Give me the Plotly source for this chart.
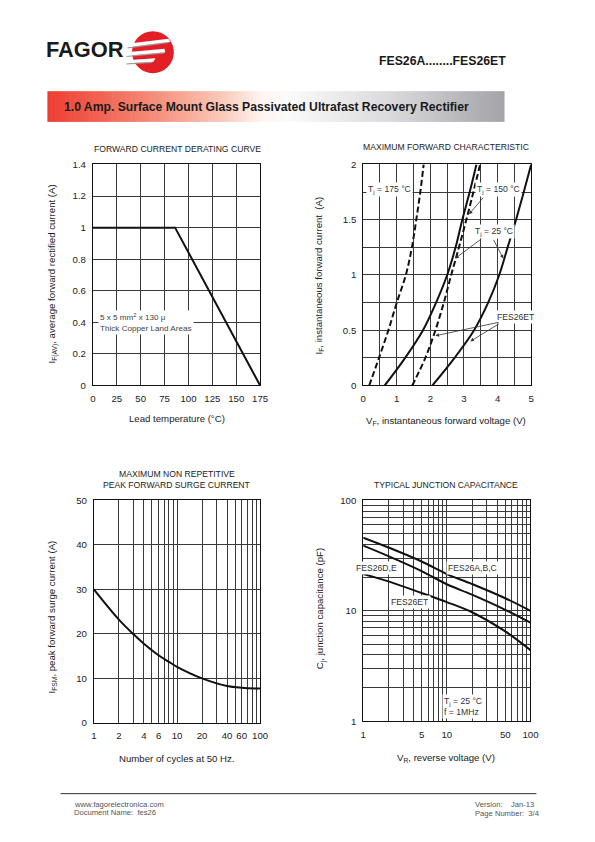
import plotly.graph_objects as go

W, H = 595, 842

# ------------------------- data -------------------------
derate_temp = [0, 86, 175]
derate_current = [1.0, 1.0, 0.0]
derate_x_ticks = [0, 25, 50, 75, 100, 125, 150, 175]
derate_y_ticks = [0, 0.2, 0.4, 0.6, 0.8, 1.0, 1.2, 1.4]
derate_y_labels = ["0", "0.2", "0.4", "0.6", "0.8", "1", "1.2", "1.4"]

fwd_current = [0, 0.25, 0.5, 0.75, 1.0, 1.25, 1.5, 1.75, 2.0]
fwd_v_175 = [0.18, 0.47, 0.75, 1.0, 1.27, 1.45, 1.58, 1.70, 1.80]
fwd_v_25 = [0.64, 1.25, 1.78, 2.17, 2.50, 2.75, 2.95, 3.17, 3.37]
fwd_v_150_et = [1.46, 1.85, 2.15, 2.40, 2.62, 2.85, 3.07, 3.28, 3.48]
fwd_v_25_et = [2.06, 2.72, 3.30, 3.72, 4.05, 4.30, 4.55, 4.78, 5.00]
fwd_x_ticks = [0, 0.5, 1, 1.5, 2, 2.5, 3, 3.5, 4, 4.5, 5]
fwd_x_labels = ["0", "", "1", "", "2", "", "3", "", "4", "", "5"]
fwd_y_ticks = [0, 0.25, 0.5, 0.75, 1, 1.25, 1.5, 1.75, 2]
fwd_y_labels = ["0", "", "0.5", "", "1", "", "1.5", "", "2"]

surge_cycles = [1, 2, 3, 4, 6, 8, 10, 20, 40, 60, 100]
surge_current = [30, 23.2, 19.9, 17.8, 15.2, 13.7, 12.6, 10, 8.3, 7.9, 7.7]
surge_x_ticks = [1, 2, 3, 4, 5, 6, 7, 8, 9, 10, 20, 30, 40, 50, 60, 70, 80, 90, 100]
surge_x_labels = ["1", "2", "", "4", "", "6", "", "", "", "10", "20", "", "40", "", "60", "", "", "", "100"]
surge_y_ticks = [0, 10, 20, 30, 40, 50]

cap_vr = [1, 2, 5, 10, 20, 50, 100]
cap_abc = [46, 37.5, 28, 21.5, 17.5, 13, 10]
cap_de = [39, 31.3, 22.9, 17.4, 14, 10.2, 7.8]
cap_et = [21.6, 18.5, 14.5, 12, 9.7, 6.5, 4.4]
log_ticks = [1, 2, 3, 4, 5, 6, 7, 8, 9, 10, 20, 30, 40, 50, 60, 70, 80, 90, 100]
cap_x_labels = ["1", "", "", "", "5", "", "", "", "", "10", "", "", "", "50", "", "", "", "", "100"]
cap_y_labels = ["1", "", "", "", "", "", "", "", "", "10", "", "", "", "", "", "", "", "", "100"]

FONT = "Liberation Sans, Arial, Helvetica, sans-serif"

# the photographed page comes out slightly shrunk and offset; compensate
SX, OX = 0.984, 2.2
SY, OY = 0.987, 4.8


def X(px):
    return ((px - OX) / SX) / W


def Y(py):
    return 1 - ((py - OY) / SY) / H


def F(size):
    return size / 0.985


fig = go.Figure()

line_kw = dict(color="#111111", width=2)
dash_kw = dict(color="#111111", width=2, dash="6px,3px")

fig.add_trace(go.Scatter(x=derate_temp, y=derate_current, mode="lines", line=line_kw,
                         xaxis="x", yaxis="y", showlegend=False, hoverinfo="skip"))

for vals, style in ((fwd_v_175, dash_kw), (fwd_v_25, line_kw), (fwd_v_150_et, dash_kw), (fwd_v_25_et, line_kw)):
    fig.add_trace(go.Scatter(x=vals, y=fwd_current, mode="lines", line_shape="spline", line=style,
                             xaxis="x2", yaxis="y2", showlegend=False, hoverinfo="skip"))

fig.add_trace(go.Scatter(x=surge_cycles, y=surge_current, mode="lines", line_shape="spline",
                         line=line_kw, xaxis="x3", yaxis="y3", showlegend=False, hoverinfo="skip"))

for vals in (cap_abc, cap_de, cap_et):
    fig.add_trace(go.Scatter(x=cap_vr, y=vals, mode="lines", line_shape="spline",
                             line=line_kw, xaxis="x4", yaxis="y4", showlegend=False, hoverinfo="skip"))

axis_common = dict(showgrid=True, gridcolor="#3a3a3a", gridwidth=1, showline=True, mirror=True,
                   linecolor="#111111", linewidth=1, zeroline=False, ticks="outside", ticklen=4,
                   tickcolor="rgba(0,0,0,0)", tickfont=dict(size=F(9.5), color="#222222", family=FONT),
                   fixedrange=True)

fig.update_layout(
    width=W, height=H, autosize=False,
    margin=dict(l=0, r=0, t=0, b=0),
    paper_bgcolor="white", plot_bgcolor="white",
    font=dict(family=FONT, color="#222222"),
    xaxis=dict(domain=[X(92.3), X(260)], range=[0, 175], tickvals=derate_x_ticks, anchor="y", **axis_common),
    yaxis=dict(domain=[Y(384.3), Y(163.3)], range=[0, 1.4], tickvals=derate_y_ticks,
               ticktext=derate_y_labels, anchor="x", **axis_common),
    xaxis2=dict(domain=[X(363.3), X(531.7)], range=[0, 5], tickvals=fwd_x_ticks, ticktext=fwd_x_labels,
                anchor="y2", **axis_common),
    yaxis2=dict(domain=[Y(384.3), Y(163.3)], range=[0, 2], tickvals=fwd_y_ticks, ticktext=fwd_y_labels,
                anchor="x2", **axis_common),
    xaxis3=dict(domain=[X(93.3), X(260)], type="log", range=[0, 2], tickvals=surge_x_ticks,
                ticktext=surge_x_labels, anchor="y3", **axis_common),
    yaxis3=dict(domain=[Y(721.7), Y(499.3)], range=[0, 50], tickvals=surge_y_ticks, anchor="x3", **axis_common),
    xaxis4=dict(domain=[X(363.3), X(531)], type="log", range=[0, 2], tickvals=log_ticks,
                ticktext=cap_x_labels, anchor="y4", **axis_common),
    yaxis4=dict(domain=[Y(720), Y(499.3)], type="log", range=[0, 2], tickvals=log_ticks,
                ticktext=cap_y_labels, anchor="x4", **axis_common),
)

shapes = []
annotations = []

# ---------------- header: logo ----------------
annotations.append(dict(text="<b>FAGOR</b>", x=X(43.5), y=Y(48), xref="paper", yref="paper",
                        xanchor="left", yanchor="middle", showarrow=False,
                        font=dict(size=F(21.5), color="#1a1a1a", family="Liberation Sans, Arial")))
cx, cy, r = 152.5, 51, 21
shapes.append(dict(type="circle", xref="paper", yref="paper", x0=X(cx - r), x1=X(cx + r),
                   y0=Y(cy + r), y1=Y(cy - r), fillcolor="#e31e26", line=dict(width=0), layer="above"))


def P(x, y):
    return f"{X(x):.5f},{Y(y):.5f}"


stripes = [
    [(127, 42.5), (168, 37.5), (170, 40.5), (127, 46)],
    [(126, 51), (164, 47.5), (165, 51), (126, 54.5)],
    [(126, 59), (155, 57), (153, 60.5), (126, 62)],
]
for s in stripes:
    shadow = "M" + P(s[3][0], s[3][1] + 1.2) + " L" + P(s[2][0] - 1, s[2][1] + 1.2) + " L" + P(s[2][0] - 1, s[2][1]) + " L" + P(s[3][0], s[3][1]) + " Z"
    shapes.append(dict(type="path", path=shadow, xref="paper", yref="paper", fillcolor="#9a9a9a",
                       line=dict(width=0), layer="above"))
    path = "M" + " L".join(P(a, b) for a, b in s) + " Z"
    shapes.append(dict(type="path", path=path, xref="paper", yref="paper", fillcolor="white",
                       line=dict(width=0), layer="above"))

annotations.append(dict(text="<b>FES26A........FES26ET</b>", x=X(508), y=Y(60), xref="paper", yref="paper",
                        xanchor="right", yanchor="middle", showarrow=False,
                        font=dict(size=F(12.1), color="#1a1a1a", family=FONT)))

# ---------------- banner with gradient ----------------
stops = [(0.0, (238, 62, 50)), (0.12, (241, 100, 84)), (0.25, (245, 148, 128)), (0.38, (250, 200, 186)),
         (0.47, (254, 245, 242)), (0.53, (250, 250, 250)), (0.75, (218, 218, 220)), (1.0, (163, 163, 168))]


def grad(t):
    for (t0, c0), (t1, c1) in zip(stops[:-1], stops[1:]):
        if t0 <= t <= t1:
            f = (t - t0) / (t1 - t0)
            return "rgb(%d,%d,%d)" % tuple(round(a + (b - a) * f) for a, b in zip(c0, c1))
    return "rgb(%d,%d,%d)" % stops[-1][1]


bx0, bx1, by0, by1 = 46.7, 505, 90, 120.7
N = 120
for i in range(N):
    a = bx0 + (bx1 - bx0) * i / N
    b = bx0 + (bx1 - bx0) * (i + 1) / N + 0.6
    shapes.append(dict(type="rect", xref="paper", yref="paper", x0=X(a), x1=X(min(b, bx1)),
                       y0=Y(by1), y1=Y(by0), fillcolor=grad((i + 0.5) / N), line=dict(width=0), layer="below"))
annotations.append(dict(text="<b>1.0 Amp. Surface Mount Glass Passivated Ultrafast Recovery Rectifier</b>",
                        x=X(61.5), y=Y(105.5), xref="paper", yref="paper", xanchor="left", yanchor="middle",
                        showarrow=False,
                        font=dict(size=F(12.0), color="#1a1a1a", family=FONT)))

# ---------------- chart titles ----------------
tfont = dict(size=F(8.5), color="#222222", family=FONT)
for txt, x, y in [("FORWARD CURRENT DERATING CURVE", 176.7, 147.7),
                  ("MAXIMUM FORWARD CHARACTERISTIC", 446.7, 145.7),
                  ("MAXIMUM NON REPETITIVE", 176.7, 472.5),
                  ("PEAK FORWARD SURGE CURRENT", 176.7, 484),
                  ("TYPICAL JUNCTION CAPACITANCE", 446.7, 484)]:
    annotations.append(dict(text=txt, x=X(x), y=Y(y), xref="paper", yref="paper", xanchor="center",
                            yanchor="middle", showarrow=False, font=tfont))

# ---------------- axis titles ----------------
afont = dict(size=F(9.5), color="#222222", family=FONT)
for txt, x, y in [("Lead temperature (°C)", 176.7, 417.7),
                  ("V<sub>F</sub>, instantaneous forward voltage (V)", 446.7, 420),
                  ("Number of cycles at 50 Hz.", 176.5, 757.3),
                  ("V<sub>R</sub>, reverse voltage (V)", 446.7, 756.7)]:
    annotations.append(dict(text=txt, x=X(x), y=Y(y), xref="paper", yref="paper", xanchor="center",
                            yanchor="middle", showarrow=False, font=afont))
for txt, x, y in [("I<sub>F(AV)</sub>, average forward rectified current (A)", 51.7, 273),
                  ("I<sub>F</sub>, instantaneous forward current  (A)", 319.3, 274),
                  ("I<sub>FSM</sub>, peak forward surge current (A)", 51.7, 616),
                  ("C<sub>j</sub>, junction capacitance (pF)", 320, 607)]:
    annotations.append(dict(text=txt, x=X(x), y=Y(y), xref="paper", yref="paper", xanchor="center",
                            yanchor="middle", showarrow=False, textangle=-90, font=afont))

# ---------------- in-chart labels ----------------
lfont = dict(size=F(8.5), color="#333333", family=FONT)
annotations.append(dict(text="5 x 5 mm<sup>2</sup> x 130 μ<br>Thick Copper Land Areas", x=5, y=0.4,
                        xref="x", yref="y", xanchor="left", yanchor="middle", align="left",
                        showarrow=False, bgcolor="white", borderpad=1,
                        font=dict(size=F(8), color="#444444", family=FONT)))

annotations.append(dict(text="T<sub>j</sub> = 175 °C", x=0.78, y=1.77, xref="x2", yref="y2",
                        showarrow=False, bgcolor="white", borderpad=1, font=lfont))
annotations.append(dict(text="T<sub>j</sub> = 150 °C", x=4.03, y=1.77, xref="x2", yref="y2",
                        showarrow=False, bgcolor="white", borderpad=1, font=lfont))
annotations.append(dict(text="T<sub>j</sub> = 25 °C", x=3.88, y=1.39, xref="x2", yref="y2",
                        showarrow=False, bgcolor="white", borderpad=1, font=lfont))
annotations.append(dict(text="FES26ET", x=4.55, y=0.62, xref="x2", yref="y2",
                        showarrow=False, bgcolor="white", borderpad=1, font=lfont))

arrow_kw = dict(text="", xref="x2", yref="y2", axref="x2", ayref="y2", showarrow=True, arrowhead=2,
                arrowsize=0.9, arrowwidth=0.8, arrowcolor="#333333", standoff=0, startstandoff=0)
for (ax, ay, x, y) in [(3.61, 1.713, 3.15, 1.55), (3.56, 1.336, 2.74, 1.15), (3.86, 1.33, 4.17, 1.15),
                       (4.08, 0.575, 2.15, 0.45), (4.08, 0.565, 3.19, 0.40)]:
    annotations.append(dict(ax=ax, ay=ay, x=x, y=y, **arrow_kw))

annotations.append(dict(text="FES26D,E", x=0.16, y=1.39, xref="x4", yref="y4",
                        showarrow=False, bgcolor="white", borderpad=1, font=lfont))
annotations.append(dict(text="FES26A,B,C", x=1.31, y=1.39, xref="x4", yref="y4",
                        showarrow=False, bgcolor="white", borderpad=1, font=lfont))
annotations.append(dict(text="FES26ET", x=0.56, y=1.08, xref="x4", yref="y4",
                        showarrow=False, bgcolor="white", borderpad=1, font=lfont))
annotations.append(dict(text="T<sub>j</sub> = 25 °C<br>f = 1MHz", x=0.944, y=0.13, xref="x4", yref="y4",
                        xanchor="left", yanchor="middle", align="left",
                        showarrow=False, bgcolor="white", borderpad=1, font=lfont))

# ---------------- footer ----------------
shapes.append(dict(type="line", xref="paper", yref="paper", x0=X(60), x1=X(537), y0=Y(792.5), y1=Y(792.5),
                   line=dict(color="#333333", width=1)))
ffont = dict(size=F(7.5), color="#555555", family=FONT)
for txt, x, y, anc in [("www.fagorelectronica.com", 71.7, 803, "left"),
                       ("Document Name:  fes26", 71.7, 811.3, "left"),
                       ("Version:    Jan-13", 473.3, 803.5, "left"),
                       ("Page Number:  3/4", 473.3, 812, "left")]:
    annotations.append(dict(text=txt, x=X(x), y=Y(y), xref="paper", yref="paper", xanchor=anc,
                            yanchor="middle", showarrow=False, font=ffont))

fig.update_layout(shapes=shapes, annotations=annotations)

page_fix = (
    "(function(){var h=document.documentElement,b=document.body;"
    "h.style.margin='0';h.style.padding='0';h.style.overflow='hidden';"
    "h.style.width='595px';h.style.height='842px';"
    "b.style.margin='0';b.style.padding='0';b.style.overflow='hidden';"
    "b.style.width='595px';b.style.height='842px';"
    "var d=document.getElementById('{plot_id}');"
    "d.style.position='absolute';d.style.left='0px';d.style.top='0px';})();"
)
fig.write_html("out.html", config={"displayModeBar": False, "staticPlot": True}, post_script=page_fix)
